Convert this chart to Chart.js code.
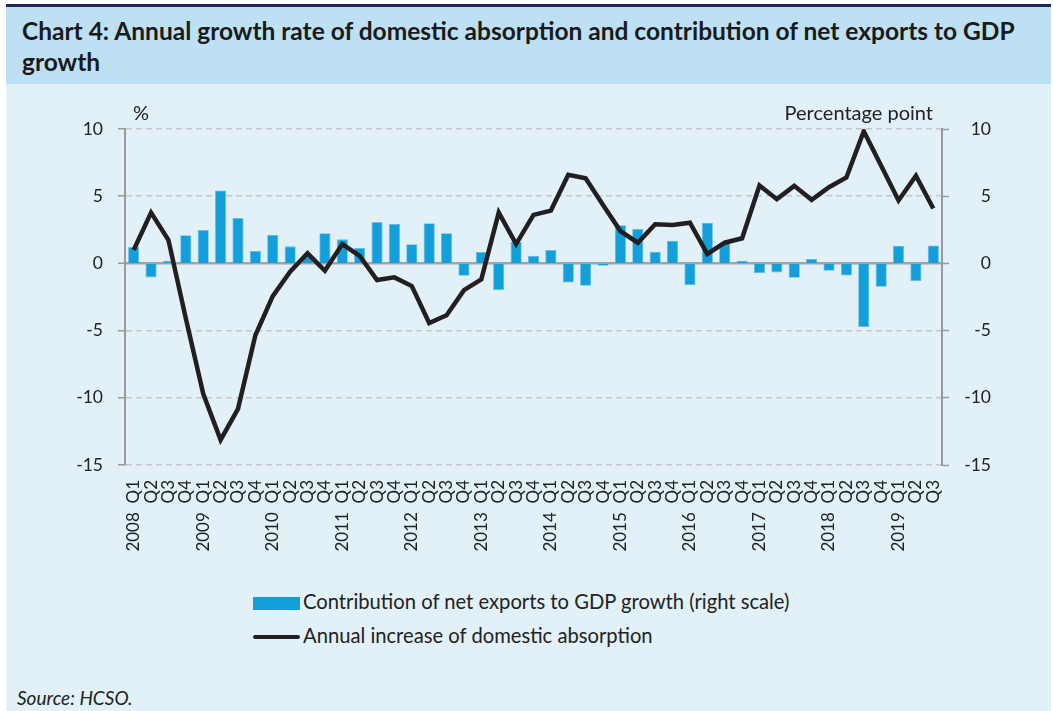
<!DOCTYPE html>
<html>
<head>
<meta charset="utf-8">
<script src="https://cdn.jsdelivr.net/npm/chart.js@4.4.1/dist/chart.umd.min.js"></script>
<style>
  html, body { margin:0; padding:0; background:#ffffff; }
  body { width:1053px; height:711px; position:relative; overflow:hidden; font-family: Lato, "Open Sans", sans-serif; }
  #frame { position:absolute; left:6px; top:4px; width:1045px; height:707px; background:#e2f0f7; }
  #topline { position:absolute; left:0; top:0; width:1045px; height:3px; background:#1f2756; }
  #header { position:absolute; left:0; top:3px; width:1045px; height:77px; background:#bde0f2; }
  #title { position:absolute; left:16px; top:8px; font-weight:bold; font-size:24.5px; line-height:31px; color:#1a1a1a; white-space:nowrap; }
  #cwrap { position:absolute; left:0; top:90px; width:1053px; height:470px; }
  .axt { position:absolute; font-size:20px; color:#222; white-space:nowrap; }
  .leg { position:absolute; font-size:20.2px; color:#222; white-space:nowrap; }
  #src { position:absolute; left:17px; top:686px; font-size:19px; font-style:italic; color:#222; }
</style>
</head>
<body>
<div id="frame">
  <div id="topline"></div>
  <div id="header"><div id="title">Chart 4: Annual growth rate of domestic absorption and contribution of net exports to GDP<br>growth</div></div>
</div>
<div id="cwrap"><canvas id="c" width="1053" height="470"></canvas></div>
<div class="axt" style="left:133px; top:100px;">%</div>
<div class="axt" style="right:120px; top:100px;">Percentage point</div>
<div style="position:absolute; left:253px; top:597px; width:47px; height:13px; background:#139fd9;"></div>
<div class="leg" style="left:303px; top:589px;">Contribution of net exports to GDP growth (right scale)</div>
<div style="position:absolute; left:253px; top:635px; width:47px; height:4px; background:#231f20; border-radius:2px;"></div>
<div class="leg" style="left:303px; top:623px;">Annual increase of domestic absorption</div>
<div id="src">Source: HCSO.</div>
<script>
const years = ['2008','2009','2010','2011','2012','2013','2014','2015','2016','2017','2018','2019'];
const quarters = ['Q1','Q2','Q3','Q4'];
const nQuarters = 47;
const netExports = [1.22, -1.04, 0.2, 2.09, 2.49, 5.42, 3.38, 0.92, 2.11, 1.27, 0.6, 2.24, 1.79, 1.14, 3.08, 2.94, 1.42, 2.99, 2.24, -0.92, 0.85, -1.99, 1.62, 0.57, 1.0, -1.42, -1.67, -0.17, 2.84, 2.56, 0.87, 1.69, -1.62, 3.03, 1.5, 0.2, -0.72, -0.67, -1.07, 0.32, -0.55, -0.9, -4.73, -1.74, 1.32, -1.32, 1.34];
const domesticAbsorption = [1.0, 3.78, 1.74, -4.1, -9.7, -13.13, -10.82, -5.35, -2.44, -0.62, 0.75, -0.55, 1.44, 0.55, -1.24, -1.04, -1.69, -4.43, -3.86, -1.99, -1.19, 3.78, 1.44, 3.61, 3.93, 6.59, 6.34, 4.35, 2.41, 1.54, 2.91, 2.86, 3.03, 0.7, 1.54, 1.87, 5.8, 4.78, 5.77, 4.73, 5.67, 6.39, 9.83, 7.26, 4.68, 6.52, 4.08];
const yMin = -15, yMax = 10, yStep = 5;

const labels = [];
for (let i = 0; i < nQuarters; i++) {
  const q = quarters[i % 4];
  labels.push(i % 4 === 0 ? years[Math.floor(i / 4)] + '  ' + q : q);
}

const tickFont = { family: 'Lato', size: 17.5 };
new Chart(document.getElementById('c'), {
  data: {
    labels: labels,
    datasets: [
      { type: 'line', label: 'Annual increase of domestic absorption', data: domesticAbsorption, yAxisID: 'y',
        borderColor: '#231f20', borderWidth: 4.5, pointRadius: 0, tension: 0, order: 0, borderJoinStyle: 'miter' },
      { type: 'bar', label: 'Contribution of net exports to GDP growth (right scale)', data: netExports, yAxisID: 'y1',
        backgroundColor: '#139fd9', borderColor: '#5ebde6', borderWidth: 0.8, barPercentage: 0.64, categoryPercentage: 1, order: 1 }
    ]
  },
  options: {
    responsive: false, animation: false,
    layout: { padding: { top: 39, left: 0, right: 62, bottom: 0 } },
    plugins: { legend: { display: false }, tooltip: { enabled: false } },
    scales: {
      x: {
        grid: { display: false, drawTicks: false }, border: { display: false },
        ticks: { autoSkip: false, maxRotation: 90, minRotation: 90, padding: 15, color: '#222', font: { family: 'Lato', size: 17 } },
        afterFit: s => { s.height = 95; }
      },
      y: {
        position: 'left', min: yMin, max: yMax,
        ticks: { stepSize: yStep, padding: 15, color: '#222', font: tickFont },
        grid: { color: c => c.tick && c.tick.value === 0 ? '#a3a3a3' : '#c6c6c6', lineWidth: c => c.tick && c.tick.value === 0 ? 2.5 : 1.5,
                tickLength: 7, tickColor: '#9a9a9a', tickWidth: 1.5 },
        border: { display: true, color: '#9a9a9a', width: 2, dash: c => c.tick && c.tick.value === 0 ? [] : [6, 4] },
        afterFit: s => { s.width = 125; }
      },
      y1: {
        position: 'right', min: yMin, max: yMax,
        ticks: { stepSize: yStep, padding: 9, color: '#222', font: tickFont, crossAlign: 'far' },
        grid: { drawOnChartArea: false, tickLength: 7, tickColor: '#9a9a9a', tickWidth: 1.5 },
        border: { display: true, color: '#9a9a9a', width: 2 },
        afterFit: s => { s.width = 49; }
      }
    }
  }
});
</script>
</body>
</html>
